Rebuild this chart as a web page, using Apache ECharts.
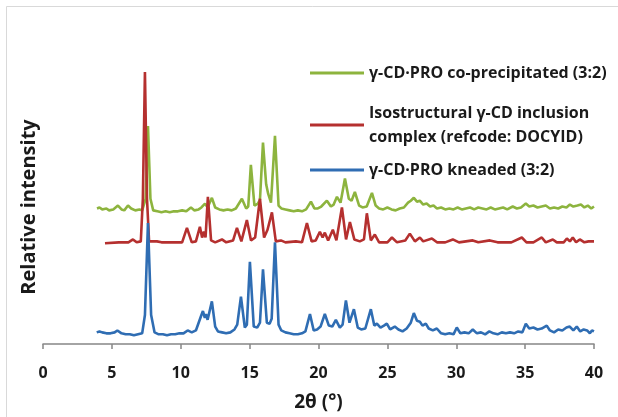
<!DOCTYPE html>
<html>
<head>
<meta charset="utf-8">
<script src="https://cdn.jsdelivr.net/npm/echarts@6/dist/echarts.min.js"></script>
<style>html,body{margin:0;padding:0;background:#fff}#c{width:618px;height:417px}</style>
</head>
<body>
<div id="c"></div>
<script>
var xTicks = [0, 5, 10, 15, 20, 25, 30, 35, 40];
var seriesNames = [
  'γ-CD·PRO co-precipitated (3:2)',
  'Isostructural γ-CD inclusion complex (refcode: DOCYID)',
  'γ-CD·PRO kneaded (3:2)'
];
// [2θ, relative intensity (arbitrary, offset traces)]
var coprecipitated = [
  [3.92,140],[4.1,141],[4.3,139],[4.6,140],[4.8,138],[5.1,139],[5.44,143],[5.7,139],[5.9,138],[6.17,143],[6.4,140],
  [6.7,138],[7.0,139],[7.2,138],[7.45,150],[7.62,225],[7.8,150],[8.0,138],[8.3,137],[8.6,136],[8.9,137],[9.2,136],
  [9.5,137],[9.8,137],[10.1,138],[10.4,137],[10.74,141],[11.0,138],[11.3,139],[11.5,141],[11.76,145],[11.95,141],
  [12.26,151],[12.5,141],[12.8,139],[13.1,138],[13.4,139],[13.7,138],[14.0,140],[14.44,150],[14.75,140],[14.9,142],
  [15.09,185],[15.35,143],[15.6,145],[15.75,149],[15.97,208],[16.2,165],[16.35,155],[16.55,146],[16.84,215],[17.1,143],
  [17.3,140],[17.6,139],[17.9,138],[18.2,137],[18.5,138],[18.8,137],[19.1,139],[19.45,147],[19.7,140],[19.95,140],
  [20.2,142],[20.61,148],[20.9,142],[21.1,144],[21.34,152],[21.6,146],[21.92,171],[22.2,150],[22.4,148],[22.64,157],
  [22.95,143],[23.2,141],[23.5,142],[23.88,156],[24.15,143],[24.4,140],[24.7,139],[25.0,141],[25.3,139],[25.6,138],
  [25.9,140],[26.2,141],[26.5,146],[26.7,148],[26.92,151],[27.15,147],[27.35,148],[27.6,144],[27.85,145],[28.1,142],
  [28.35,143],[28.6,140],[28.9,141],[29.2,139],[29.5,140],[29.8,139],[30.1,141],[30.4,139],[30.7,140],[31.0,141],
  [31.3,139],[31.6,141],[31.9,140],[32.2,139],[32.5,141],[32.8,139],[33.1,140],[33.4,141],[33.7,139],[34.1,142],
  [34.4,140],[34.7,141],[35.05,145],[35.3,142],[35.6,143],[35.9,141],[36.2,142],[36.5,143],[36.8,140],[37.1,141],
  [37.4,140],[37.7,142],[38.0,141],[38.25,144],[38.5,142],[38.8,143],[39.05,144],[39.3,141],[39.55,143],[39.8,140],[40.0,142]
];
var docyid = [
  [4.5,104],[5.5,105],[6.2,105],[6.53,108],[6.8,105],[7.1,106],[7.25,150],[7.40,281],[7.55,150],[7.7,106],[8.27,106],
  [8.6,105],[10.1,105],[10.45,120],[10.8,105],[11.1,106],[11.39,121],[11.55,110],[11.68,116],[11.8,110],[11.97,152],
  [12.2,107],[12.5,105],[12.99,108],[13.3,105],[13.8,107],[14.08,120],[14.4,106],[14.80,128],[15.1,107],[15.4,110],
  [15.75,150],[16.05,110],[16.3,118],[16.62,136],[16.9,106],[17.27,107],[17.6,105],[18.36,106],[18.8,105],[19.16,125],
  [19.5,106],[19.8,107],[20.10,116],[20.3,110],[20.46,115],[20.7,107],[21.04,118],[21.3,107],[21.70,141],[22.0,108],
  [22.28,126],[22.6,108],[23.0,106],[23.3,108],[23.51,135],[23.8,107],[24.09,113],[24.4,105],[25.0,105],[25.33,110],
  [25.7,105],[26.3,107],[26.63,114],[27.0,106],[27.36,110],[27.6,106],[28.23,109],[28.6,105],[29.2,105],[29.75,108],
  [30.2,105],[31.2,107],[31.6,105],[32.44,107],[33.0,105],[34.0,105],[34.76,110],[35.1,105],[35.6,105],[36.21,110],
  [36.5,105],[37.01,108],[37.3,105],[37.8,105],[38.03,109],[38.25,106],[38.46,110],[38.7,105],[38.97,108],[39.3,105],
  [39.6,106],[40.0,106]
];
var kneaded = [
  [3.9,12],[4.1,13],[4.3,12],[4.6,11],[4.9,11],[5.2,12],[5.4,14],[5.7,11],[6.0,10],[6.3,10],[6.6,9],[6.9,10],[7.2,11],
  [7.4,30],[7.62,125],[7.85,30],[8.1,12],[8.4,10],[8.7,10],[9.0,9],[9.3,10],[9.6,10],[9.9,11],[10.2,11],[10.5,14],
  [10.8,12],[11.1,14],[11.3,22],[11.5,30],[11.61,34],[11.75,27],[11.83,31],[11.95,25],[12.26,44],[12.5,18],[12.7,13],
  [13.0,12],[13.3,11],[13.6,12],[13.9,15],[14.1,20],[14.37,49],[14.65,17],[14.8,20],[15.02,85],[15.3,18],[15.55,17],
  [15.75,22],[15.97,77],[16.25,22],[16.45,21],[16.6,26],[16.84,105],[17.1,20],[17.3,14],[17.6,12],[17.9,11],[18.2,10],
  [18.5,10],[18.8,11],[19.05,13],[19.38,31],[19.65,14],[19.9,15],[20.15,18],[20.46,31],[20.75,19],[21.0,18],[21.26,25],
  [21.55,17],[21.75,20],[21.99,45],[22.25,22],[22.57,36],[22.85,17],[23.1,15],[23.4,16],[23.8,36],[24.05,19],[24.24,21],
  [24.5,17],[24.75,19],[24.96,21],[25.2,15],[25.54,18],[25.8,15],[26.1,13],[26.4,16],[26.7,22],[26.92,32],[27.15,24],
  [27.36,23],[27.55,19],[27.79,21],[28.0,16],[28.3,14],[28.59,16],[28.9,11],[29.2,10],[29.5,11],[29.8,10],[30.04,17],
  [30.3,11],[30.6,12],[30.9,11],[31.2,15],[31.5,11],[31.8,12],[32.1,10],[32.4,13],[32.7,11],[33.0,10],[33.3,12],
  [33.6,11],[33.9,12],[34.2,11],[34.5,13],[34.8,12],[35.05,21],[35.3,16],[35.6,17],[35.9,15],[36.2,16],[36.57,19],
  [36.8,14],[37.1,12],[37.4,15],[37.7,14],[38.0,17],[38.24,18],[38.5,14],[38.75,18],[39.0,13],[39.25,15],[39.5,14],
  [39.7,11],[39.85,14],[40.0,13]
];

var FONT = '"Open Sans", "Liberation Sans", sans-serif';
var TXT = '#1a1a1a';
var colors = ['#8db43e', '#b5302f', '#2f6db3'];
var chart = echarts.init(document.getElementById('c'), null, {renderer: 'canvas'});

function legendAt(i, top, extra) {
  var ts = {fontFamily: FONT, fontWeight: 'bold', fontSize: 16, color: TXT};
  if (extra) { for (var k in extra) ts[k] = extra[k]; }
  return {
    data: [seriesNames[i]], left: 310, top: top, padding: 0,
    icon: 'rect', itemWidth: 54, itemHeight: 3,
    selectedMode: false, textStyle: ts,
    formatter: i === 1 ? function () { return 'Isostructural γ-CD inclusion\ncomplex (refcode: DOCYID)'; } : undefined
  };
}

chart.setOption({
  animation: false,
  backgroundColor: '#fff',
  graphic: [{
    type: 'rect', shape: {x: 6.5, y: 6.5, width: 700, height: 500},
    style: {fill: 'none', stroke: '#d9d9d9', lineWidth: 1}, silent: true, z: -10
  }],
  grid: {left: 43, right: 24, top: 70, bottom: 64},
  legend: [
    legendAt(0, 65),
    legendAt(1, 89, {lineHeight: 24, padding: [24, 0, 0, 0]}),
    legendAt(2, 162)
  ],
  xAxis: {
    type: 'value', min: 0, max: 40, interval: 5,
    name: '2θ (°)', nameLocation: 'middle', nameGap: 49,
    nameTextStyle: {fontFamily: FONT, fontWeight: 'bold', fontSize: 19, color: TXT},
    axisLine: {lineStyle: {color: '#868686', width: 1.5}},
    axisTick: {length: 5, lineStyle: {color: '#868686', width: 1.5}},
    axisLabel: {fontFamily: FONT, fontWeight: 'bold', fontSize: 16, color: TXT, margin: 21,
      formatter: function (v) { return xTicks.indexOf(v) >= 0 ? String(v) : ''; }},
    splitLine: {show: false}
  },
  yAxis: {
    type: 'value', min: 0, max: 283,
    name: 'Relative intensity', nameLocation: 'middle', nameGap: 4, nameRotate: 90,
    nameTextStyle: {fontFamily: FONT, fontWeight: 'bold', fontSize: 20, color: TXT},
    axisLine: {show: false}, axisTick: {show: false}, axisLabel: {show: false}, splitLine: {show: false}
  },
  series: [
    {name: seriesNames[0], type: 'line', data: coprecipitated, showSymbol: false, symbol: 'none', clip: false,
      lineStyle: {color: colors[0], width: 2.6}, itemStyle: {color: colors[0]}},
    {name: seriesNames[1], type: 'line', data: docyid, showSymbol: false, symbol: 'none', clip: false,
      lineStyle: {color: colors[1], width: 2.6}, itemStyle: {color: colors[1]}},
    {name: seriesNames[2], type: 'line', data: kneaded, showSymbol: false, symbol: 'none', clip: false,
      lineStyle: {color: colors[2], width: 2.6}, itemStyle: {color: colors[2]}}
  ]
});
</script>
</body>
</html>
